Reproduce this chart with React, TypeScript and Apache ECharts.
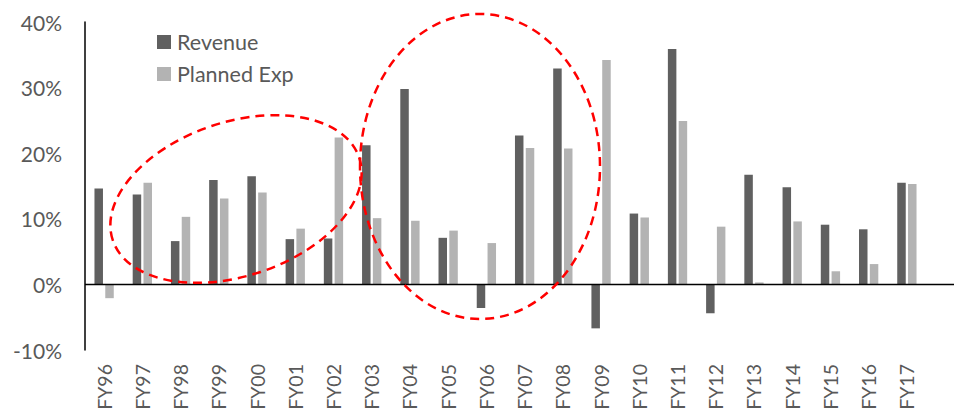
import React, { useEffect, useRef } from "react";
import * as echarts from "echarts";

const categories = [
  "FY96", "FY97", "FY98", "FY99", "FY00", "FY01", "FY02", "FY03", "FY04", "FY05", "FY06",
  "FY07", "FY08", "FY09", "FY10", "FY11", "FY12", "FY13", "FY14", "FY15", "FY16", "FY17",
];

// Annual growth rates, in percent
const revenue = [
  14.6, 13.7, 6.6, 15.9, 16.5, 6.9, 7.0, 21.2, 29.8, 7.1, -3.6,
  22.7, 32.9, -6.7, 10.8, 35.9, -4.4, 16.7, 14.8, 9.1, 8.4, 15.5,
];
const plannedExp = [
  -2.1, 15.5, 10.3, 13.1, 14.0, 8.5, 22.4, 10.1, 9.7, 8.2, 6.3,
  20.8, 20.7, 34.2, 10.2, 24.9, 8.8, 0.3, 9.6, 2.0, 3.1, 15.3,
];

const yTicks = { min: -10, max: 40, interval: 10 };

const FONT = "Lato, 'Open Sans', sans-serif";
const TEXT = "#595959";

export default function App() {
  const ref = useRef<HTMLDivElement>(null);

  useEffect(() => {
    if (!ref.current) return;
    const chart = echarts.init(ref.current, undefined, { renderer: "svg" });
    chart.setOption({
      animation: false,
      backgroundColor: "#ffffff",
      textStyle: { fontFamily: FONT },
      grid: {
        left: 85,
        right: 28,
        top: 22,
        bottom: 62,
        containLabel: false,
        outerBoundsMode: "none",
      },
      legend: {
        orient: "vertical",
        left: 157,
        top: 31,
        padding: 0,
        itemWidth: 14,
        itemHeight: 14,
        itemGap: 10,
        icon: "rect",
        textStyle: { color: TEXT, fontSize: 21.5, fontFamily: FONT, padding: [0, 0, 0, 1] },
        data: ["Revenue", "Planned Exp"],
      },
      xAxis: {
        type: "category",
        data: categories,
        axisLine: { show: false, onZero: false },
        axisTick: { show: false },
        axisLabel: { rotate: 90, color: TEXT, fontSize: 19.5, fontFamily: FONT, margin: 14 },
        splitLine: { show: false },
      },
      yAxis: {
        type: "value",
        min: yTicks.min,
        max: yTicks.max,
        interval: yTicks.interval,
        axisLine: { show: true, lineStyle: { color: "#000000", width: 1.5 } },
        axisTick: { show: false },
        splitLine: { show: false },
        axisLabel: {
          color: TEXT,
          fontSize: 21,
          fontFamily: FONT,
          margin: 23,
          formatter: (v: number) => `${v}%`,
        },
      },
      series: [
        {
          name: "Revenue",
          type: "bar",
          data: revenue,
          barWidth: 8.5,
          barGap: "27%",
          itemStyle: { color: "#606060" },
        },
        {
          name: "Planned Exp",
          type: "bar",
          data: plannedExp,
          barWidth: 8.5,
          barGap: "27%",
          itemStyle: { color: "#b3b3b3" },
        },
      ],
    });

    const y0 = chart.convertToPixel({ yAxisIndex: 0 }, 0) as number;
    const dashed = { fill: "none", stroke: "#ff0000", lineWidth: 2.5, lineDash: [9, 6] };
    chart.setOption({
      graphic: [
        {
          id: "zeroLine",
          type: "line",
          z: 10,
          shape: { x1: 85, y1: y0, x2: 954, y2: y0 },
          style: { stroke: "#000000", lineWidth: 1.5 },
        },
        {
          id: "ring1",
          type: "ellipse",
          z: 20,
          x: 236,
          y: 199,
          rotation: (18.5 * Math.PI) / 180,
          shape: { cx: 0, cy: 0, rx: 130, ry: 77 },
          style: dashed,
        },
        {
          id: "ring2",
          type: "ellipse",
          z: 20,
          shape: { cx: 480, cy: 166.5, rx: 120, ry: 152.5 },
          style: dashed,
        },
      ],
    });

    return () => chart.dispose();
  }, []);

  return (
    <div
      ref={ref}
      style={{ position: "fixed", left: 0, top: 0, width: 954, height: 412, background: "#fff" }}
    />
  );
}
